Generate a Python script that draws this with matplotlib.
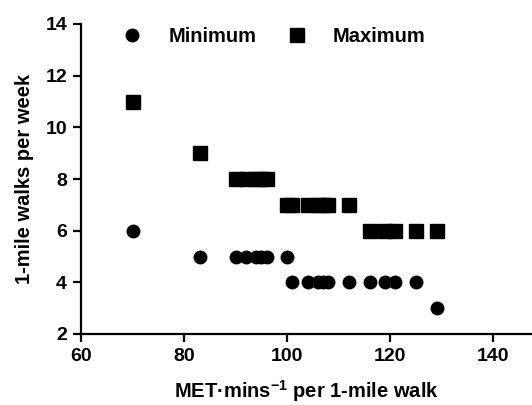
import matplotlib
matplotlib.use("Agg")
import matplotlib.pyplot as plt

plt.rcParams["font.family"] = ["Liberation Sans", "DejaVu Sans"]
plt.rcParams["font.weight"] = "bold"
plt.rcParams["mathtext.fontset"] = "custom"
plt.rcParams["mathtext.rm"] = "Liberation Sans:bold"
plt.rcParams["mathtext.bf"] = "Liberation Sans:bold"
plt.rcParams["mathtext.default"] = "bf"

# MET-mins per 1-mile walk, one entry per walk
met = [70, 83, 90, 92, 94, 95, 96, 100, 101, 104, 106, 107, 108, 112, 116, 119, 121, 125, 129]
walks_min = [6, 5, 5, 5, 5, 5, 5, 5, 4, 4, 4, 4, 4, 4, 4, 4, 4, 4, 3]
walks_max = [11, 9, 8, 8, 8, 8, 8, 7, 7, 7, 7, 7, 7, 7, 6, 6, 6, 6, 6]

xticks = [60, 80, 100, 120, 140]
yticks = [2, 4, 6, 8, 10, 12, 14]

fig = plt.figure(figsize=(5.32, 4.05), dpi=100)
ax = fig.add_axes([81 / 532, 71 / 405, 1 - 81 / 532, (334 - 24) / 405])

ax.plot(met, walks_min, ls="none", marker="o", ms=9, color="black", label="Minimum")
ax.plot(met, walks_max, ls="none", marker="s", ms=9.4, color="black", label="Maximum")

ax.set_xlim(60, 147.5)
ax.set_ylim(2, 14)
ax.set_xticks(xticks)
ax.set_yticks(yticks)

for s in ["top", "right"]:
    ax.spines[s].set_visible(False)
for s in ["left", "bottom"]:
    ax.spines[s].set_linewidth(1.6)
ax.tick_params(direction="out", length=6, width=1.6, labelsize=14, pad=4)
for lab in ax.get_xticklabels() + ax.get_yticklabels():
    lab.set_fontweight("bold")

ax.set_xlabel(r"MET·mins$^{-1}$ per 1-mile walk", fontsize=14.5, fontweight="bold", labelpad=9.5)
ax.set_ylabel("1-mile walks per week", fontsize=14.5, fontweight="bold", labelpad=8)

ax.legend(loc="center left", bbox_to_anchor=(112 / 532, 1 - 36.7 / 405),
          bbox_transform=fig.transFigure, ncol=2, frameon=False,
          prop={"size": 14.5, "weight": "bold"}, borderpad=0, borderaxespad=0,
          handlelength=2.0, handletextpad=0.8, columnspacing=1.0)

fig.savefig("out.png", dpi=100)
